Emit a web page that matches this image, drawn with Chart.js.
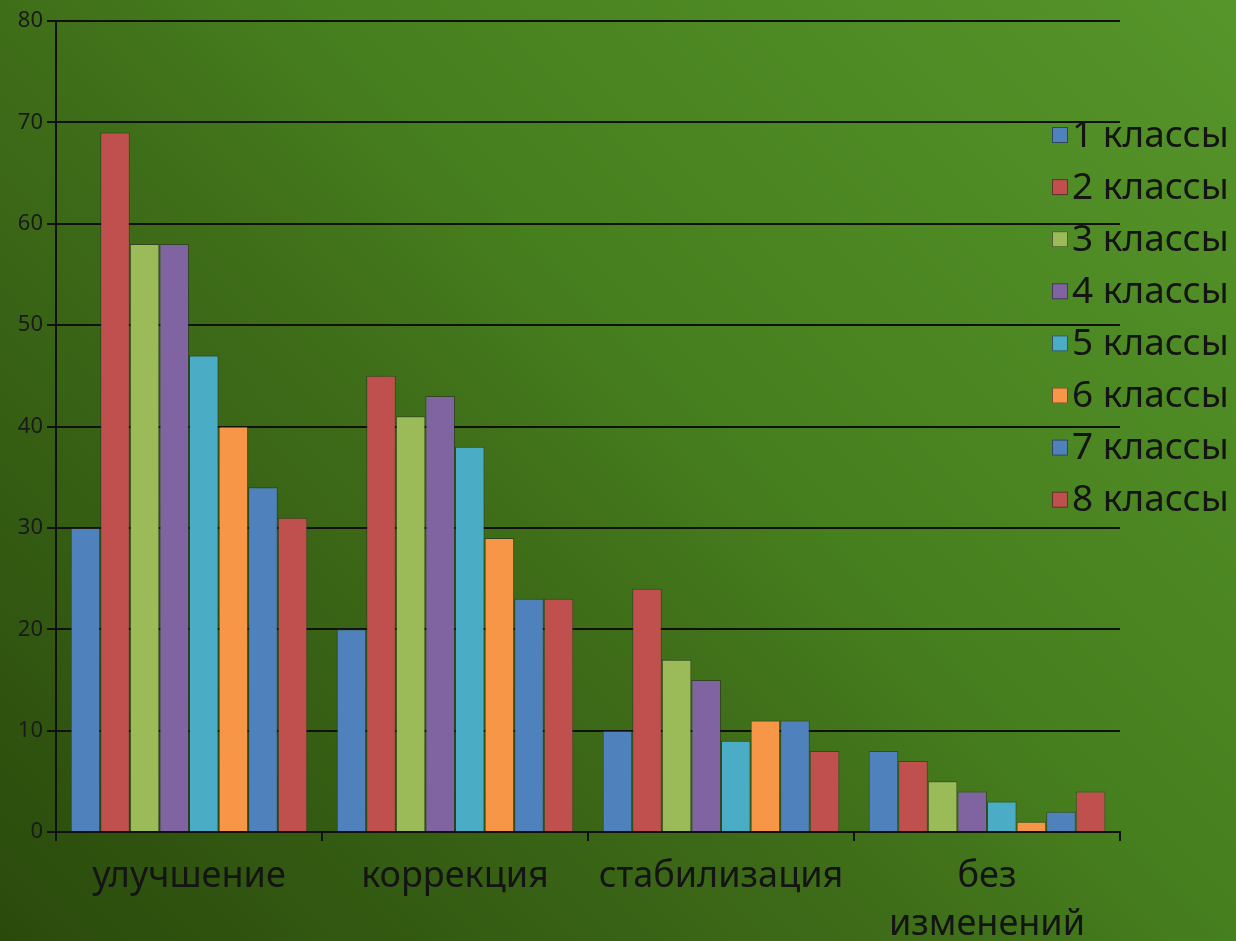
<!DOCTYPE html>
<html>
<head>
<meta charset="utf-8">
<script src="https://cdn.jsdelivr.net/npm/chart.js@4.4.1/dist/chart.umd.min.js"></script>
<style>
    html, body {
        margin: 0;
        padding: 0;
        width: 1236px;
        height: 941px;
        overflow: hidden;
        background: linear-gradient(45deg, #2a4a0c 0%, #3f6e19 43%, #467f1e 57%, #56952a 100%);
    }
    #wrap {
        position: relative;
        width: 1236px;
        height: 941px;
    }
</style>
</head>
<body>
<div id="wrap"><canvas id="chart"></canvas></div>
<script>
// Categories and series
const categories = ['улучшение', 'коррекция', 'стабилизация', ['без', 'изменений']];
const seriesNames = ['1 классы', '2 классы', '3 классы', '4 классы', '5 классы', '6 классы', '7 классы', '8 классы'];
const seriesColors = ['#4f81bd', '#c0504d', '#9bbb59', '#8064a2', '#4bacc6', '#f79646', '#4f81bd', '#c0504d'];

const class1 = [30, 20, 10, 8];
const class2 = [69, 45, 24, 7];
const class3 = [58, 41, 17, 5];
const class4 = [58, 43, 15, 4];
const class5 = [47, 38, 9, 3];
const class6 = [40, 29, 11, 1];
const class7 = [34, 23, 11, 2];
const class8 = [31, 23, 8, 4];
const seriesValues = [class1, class2, class3, class4, class5, class6, class7, class8];

const yTicks = [0, 10, 20, 30, 40, 50, 60, 70, 80];

const FONT = '"Noto Sans", "DejaVu Sans", sans-serif';

// Legend drawn over the chart area, like the original
const overlayLegend = {
    id: 'overlayLegend',
    afterDraw(chart) {
        const ctx = chart.ctx;
        ctx.save();
        ctx.font = '37px ' + FONT;
        ctx.textBaseline = 'middle';
        chart.data.datasets.forEach((ds, i) => {
            const y = 135 + i * 52.1;
            ctx.fillStyle = ds.backgroundColor;
            ctx.fillRect(1052, y - 8, 16, 16);
            ctx.strokeStyle = 'rgba(30,30,30,0.6)';
            ctx.lineWidth = 1;
            ctx.strokeRect(1052.5, y - 7.5, 15, 15);
            ctx.fillStyle = '#141414';
            ctx.fillText(ds.label, 1072, y + 1);
        });
        ctx.restore();
    }
};

const datasets = seriesNames.map((name, i) => ({
    label: name,
    data: seriesValues[i],
    backgroundColor: seriesColors[i],
    borderColor: 'rgba(40,40,40,0.55)',
    borderWidth: 1,
    categoryPercentage: 0.89,
    barPercentage: 1.0
}));

new Chart(document.getElementById('chart'), {
    type: 'bar',
    data: {
        labels: categories,
        datasets: datasets
    },
    options: {
        responsive: true,
        maintainAspectRatio: false,
        animation: false,
        layout: {
            padding: { left: 0, right: 116, top: 21, bottom: 0 }
        },
        plugins: {
            legend: { display: false },
            tooltip: { enabled: false }
        },
        scales: {
            x: {
                grid: {
                    drawOnChartArea: false,
                    color: '#111',
                    lineWidth: 2,
                    tickLength: 9
                },
                border: { color: '#111', width: 2 },
                ticks: {
                    color: '#141414',
                    font: { family: FONT, size: 36, lineHeight: 1.33 },
                    padding: 12
                },
                afterFit: s => { s.height = 109; }
            },
            y: {
                min: 0,
                max: 80,
                afterBuildTicks: s => { s.ticks = yTicks.map(v => ({ value: v })); },
                grid: {
                    color: '#111',
                    lineWidth: 2,
                    tickLength: 9
                },
                border: { color: '#111', width: 2 },
                ticks: {
                    color: '#1a1a1a',
                    font: { family: FONT, size: 22 },
                    padding: 4
                },
                afterFit: s => { s.width = 56; }
            }
        }
    },
    plugins: [overlayLegend]
});
</script>
</body>
</html>
